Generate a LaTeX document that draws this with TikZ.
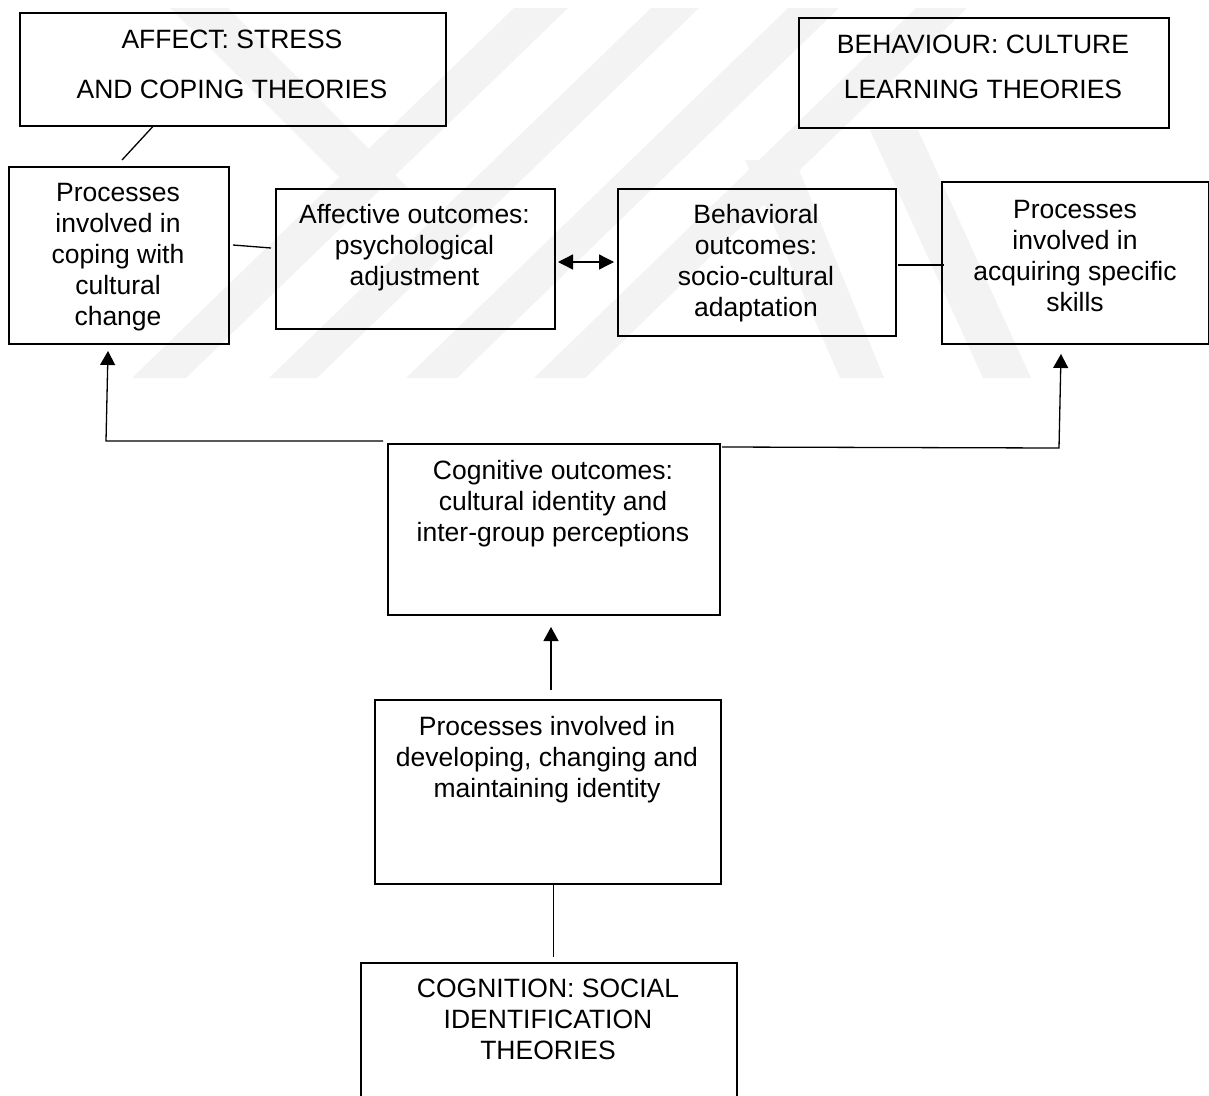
\documentclass[tikz,border=0pt]{standalone}
\usepackage{fontspec}
\setmainfont{Liberation Sans}
\usetikzlibrary{arrows.meta}
\definecolor{wmark}{gray}{0.952}
\tikzset{
  box/.style={draw, line width=1.6pt, rectangle, inner sep=0pt, anchor=north west},
  txt/.style={anchor=north, align=center, inner sep=0pt, font=\fontsize{26.5}{31}\selectfont},
  conn/.style={line width=1.3pt},
  arr/.style={line width=1.3pt, -{Triangle[length=14pt,width=15pt]}},
  dbl/.style={line width=1.3pt, {Triangle[length=15pt,width=15pt]}-{Triangle[length=15pt,width=15pt]}},
  band/.style={fill=wmark, draw=none}
}
\begin{document}
\begin{tikzpicture}[x=1pt,y=-1pt]
\fill[white] (0,0) rectangle (1209,1095);
\path[use as bounding box] (0,0) rectangle (1209,1095);
% faint watermark
\fill[band] (132,378) -- (186,378) -- (568,8) -- (514,8) -- cycle;
\fill[band] (269,378) -- (317,378) -- (699,8) -- (651,8) -- cycle;
\fill[band] (406,378) -- (457,378) -- (839,8) -- (788,8) -- cycle;
\fill[band] (534,378) -- (585,378) -- (967,8) -- (916,8) -- cycle;
\fill[band] (170,8) -- (228,8) -- (410,190) -- (352,190) -- cycle;
\fill[band] (745,160) -- (795,160) -- (884,378) -- (840,378) -- cycle;
\fill[band] (870,130) -- (918,130) -- (1031,378) -- (983,378) -- cycle;
% boxes
\node[box, minimum width=426pt, minimum height=113pt] (aff) at (19,12) {};
\node[box, minimum width=370pt, minimum height=110pt] (beh) at (798,17) {};
\node[box, minimum width=220pt, minimum height=177pt] (cope) at (8,166) {};
\node[box, minimum width=279pt, minimum height=140pt] (affo) at (275,188) {};
\node[box, minimum width=278pt, minimum height=147pt] (beho) at (617,188) {};
\node[box, minimum width=267pt, minimum height=162pt] (acq) at (941,181) {};
\node[box, minimum width=332pt, minimum height=171pt] (cogo) at (387,443) {};
\node[box, minimum width=346pt, minimum height=184pt] (dev) at (374,699) {};
\begin{scope}
\clip (0,0) rectangle (1209,1095);
\node[box, minimum width=376pt, minimum height=200pt] (cogn) at (360,962) {};
\end{scope}
% texts
\node[txt] (affT) at (232,26.8) {\strut AFFECT: STRESS\\[19pt]AND COPING THEORIES};
\node[txt] (behT) at (983,31.8) {\strut BEHAVIOUR: CULTURE\\[14pt]LEARNING THEORIES};
\node[txt] (copeT) at (118,179.8) {\strut Processes\\involved in\\coping with\\cultural\\change};
\node[txt] (affoT) at (414.5,201.8) {\strut Affective outcomes:\\psychological\\adjustment};
\node[txt] (behoT) at (756,201.8) {\strut Behavioral\\outcomes:\\socio-cultural\\adaptation};
\node[txt] (acqT) at (1075,196.8) {\strut Processes\\involved in\\acquiring specific\\skills};
\node[txt] (cogoT) at (553,457.8) {\strut Cognitive outcomes:\\cultural identity and\\inter-group perceptions};
\node[txt] (devT) at (547,713.8) {\strut Processes involved in\\developing, changing and\\maintaining identity};
\node[txt] (cognT) at (548,975.8) {\strut COGNITION: SOCIAL\\IDENTIFICATION\\THEORIES};
% free ends
\coordinate (a2) at (122,160);
\coordinate (c3) at (233,245);
\coordinate (c4) at (271,248);
\coordinate (d1) at (558,262);
\coordinate (d2) at (614,262);
\coordinate (e1) at (898,265);
\coordinate (e2) at (944,265);
\coordinate (L1) at (383,441);
\coordinate (L2) at (106,441);
\coordinate (L3) at (108,351);
\coordinate (R1) at (722,447);
\coordinate (R2) at (1059,448);
\coordinate (R3) at (1061,354);
\coordinate (u1) at (551,690);
\coordinate (u2) at (551,627);
% connectors
\draw[conn] ([xshift=-80pt]aff.south) -- (a2);
\draw[conn] (c3) -- (c4);
\draw[dbl] (d1) -- (d2);
\draw[conn] (e1) -- (e2);
\draw[arr] (L1) -- (L2) -- (L3);
\draw[arr] (R1) -- (R2) -- (R3);
\draw[arr] (u1) -- (u2);
\draw[conn] ([xshift=6pt]dev.south) -- ([xshift=5pt,yshift=5pt]cogn.north);
\end{tikzpicture}
\end{document}
